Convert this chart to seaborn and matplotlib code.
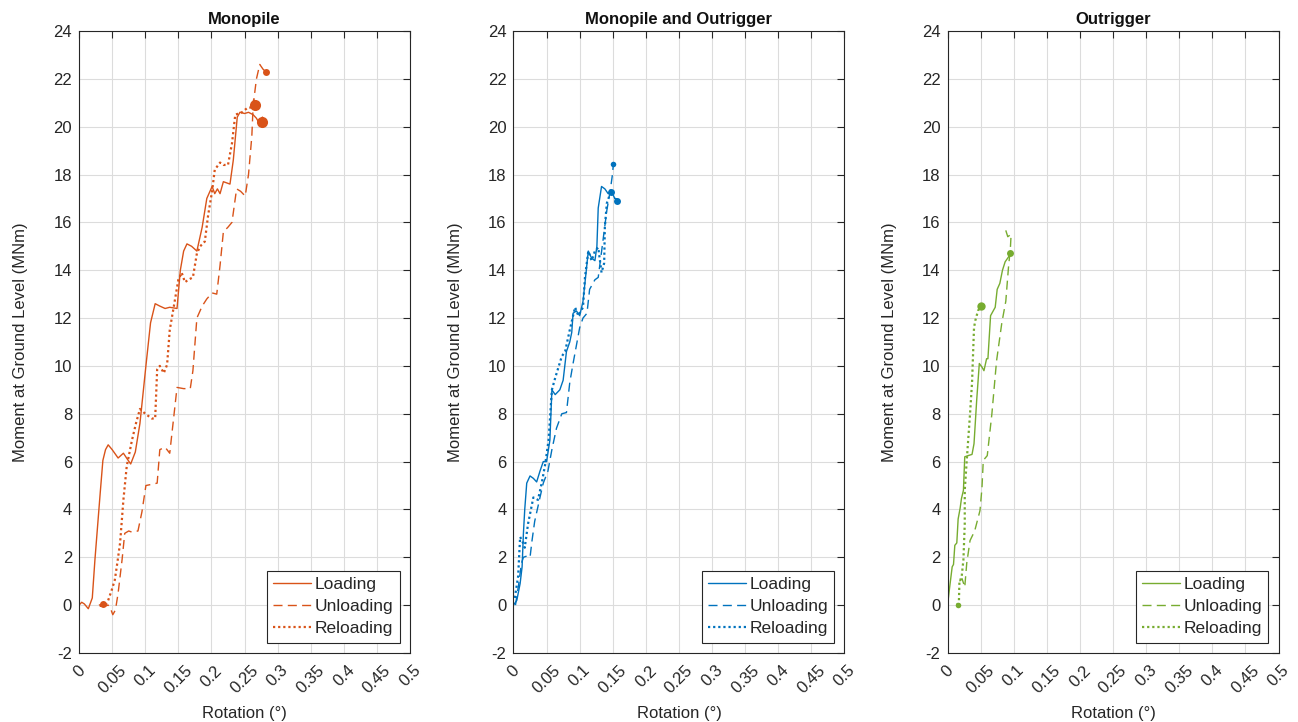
import matplotlib
matplotlib.use("Agg")
import matplotlib.pyplot as plt
import seaborn as sns
import pandas as pd

sns.set_theme(style="white")
plt.rcParams["font.family"] = ["Liberation Sans", "DejaVu Sans"]
plt.rcParams["axes.unicode_minus"] = False

# ---- Monopile ----
mono_load_rot = [0, 0.004, 0.008, 0.014, 0.020, 0.024, 0.032, 0.036, 0.040, 0.044, 0.050, 0.059, 0.067,
                 0.073, 0.078, 0.085, 0.092, 0.101, 0.108, 0.115, 0.122, 0.130, 0.137, 0.148, 0.153,
                 0.158, 0.163, 0.170, 0.178, 0.186, 0.193, 0.201, 0.205, 0.209, 0.213, 0.218, 0.223,
                 0.228, 0.233, 0.239, 0.243, 0.250, 0.256, 0.263,
                 0.268, 0.274, 0.280, 0.276, 0.271, 0.282, 0.277, 0.272, 0.279, 0.283, 0.274, 0.277]
mono_load_mom = [0, 0.12, 0.05, -0.15, 0.3, 1.9, 4.7, 6.05, 6.5, 6.7, 6.5, 6.15, 6.35,
                 6.1, 5.9, 6.4, 7.6, 10.0, 11.8, 12.6, 12.5, 12.4, 12.45, 12.4, 14.0,
                 14.8, 15.1, 15.0, 14.8, 15.8, 17.0, 17.5, 17.2, 17.4, 17.2, 17.7, 17.65,
                 17.6, 18.6, 20.4, 20.6, 20.55, 20.6, 20.5,
                 20.35, 20.05, 20.3, 20.0, 20.25, 20.15, 20.4, 20.1, 20.0, 20.25, 20.2, 20.2]

mono_unload_rot = [0.030, 0.036, 0.032, 0.042, 0.038, 0.044, 0.047, 0.051, 0.055, 0.059, 0.065, 0.069,
                   0.075, 0.080, 0.089, 0.095, 0.101, 0.110, 0.118, 0.122, 0.130, 0.137, 0.142, 0.148,
                   0.158, 0.168, 0.172, 0.178, 0.186, 0.193, 0.201, 0.208, 0.213, 0.218, 0.225, 0.231,
                   0.238, 0.244, 0.251, 0.256, 0.261, 0.263, 0.268, 0.273, 0.278, 0.282]
mono_unload_mom = [0, 0.05, -0.05, 0.05, -0.05, 0, -0.1, -0.4, -0.2, 0.5, 1.9, 3.0,
                   3.1, 3.05, 3.1, 3.9, 5.0, 5.05, 5.1, 6.5, 6.6, 6.35, 7.6, 9.1,
                   9.05, 9.05, 9.8, 12.0, 12.5, 12.8, 13.05, 13.0, 14.2, 15.6, 15.8, 16.0,
                   17.4, 17.3, 17.1, 18.0, 19.6, 20.9, 22.0, 22.6, 22.4, 22.3]

mono_reload_rot = [0.044, 0.049, 0.054, 0.058, 0.062, 0.067, 0.072, 0.080, 0.086, 0.092, 0.096, 0.100,
                   0.105, 0.110, 0.115, 0.118, 0.122, 0.128, 0.133, 0.137, 0.142, 0.150, 0.155, 0.160,
                   0.165, 0.172, 0.178, 0.183, 0.190, 0.195, 0.201, 0.205, 0.213, 0.218, 0.225, 0.231,
                   0.236, 0.246, 0.255,
                   0.261, 0.268, 0.263, 0.270, 0.264, 0.269, 0.262, 0.270, 0.266]
mono_reload_mom = [0.2, 0.6, 1.05, 1.8, 2.6, 4.4, 5.8, 6.9, 7.6, 8.2, 8.1, 8.0,
                   7.9, 7.8, 7.8, 9.85, 10.0, 9.7, 10.05, 11.5, 12.3, 13.6, 13.9, 13.5,
                   13.6, 13.7, 14.7, 15.0, 15.2, 16.3, 17.3, 18.2, 18.5, 18.4, 18.4, 19.3,
                   20.5, 20.6, 20.8,
                   20.8, 21.05, 20.7, 20.95, 21.1, 20.75, 20.95, 21.0, 20.9]

# ---- Monopile and Outrigger ----
mo_load_rot = [0, 0.005, 0.010, 0.013, 0.015, 0.017, 0.020, 0.025, 0.030, 0.035, 0.040, 0.045,
               0.050, 0.055, 0.058, 0.063, 0.070, 0.075, 0.080, 0.085, 0.088, 0.090, 0.095, 0.100,
               0.105, 0.110, 0.113, 0.118, 0.123, 0.126, 0.128, 0.133, 0.138, 0.143, 0.148, 0.153,
               0.157, 0.154, 0.158, 0.156]
mo_load_mom = [0, 0.2, 0.9, 1.6, 3.0, 4.0, 5.1, 5.4, 5.3, 5.15, 5.6, 6.0,
               6.0, 6.9, 9.0, 8.8, 9.0, 9.4, 10.6, 11.0, 11.4, 12.2, 12.3, 12.1,
               12.7, 14.0, 14.8, 14.5, 14.4, 15.0, 16.6, 17.5, 17.4, 17.2, 17.3, 17.0,
               16.9, 17.0, 16.95, 16.9]

mo_unload_rot = [0.003, 0.008, 0.012, 0.015, 0.020, 0.025, 0.028, 0.032, 0.040, 0.045, 0.052, 0.058,
                 0.065, 0.073, 0.080, 0.085, 0.090, 0.100, 0.105, 0.111, 0.115, 0.123, 0.128, 0.135,
                 0.141, 0.146, 0.149, 0.151]
mo_unload_mom = [0.0, 0.9, 1.75, 2.0, 2.05, 2.0, 2.7, 3.5, 4.5, 5.1, 5.6, 6.5,
                 7.4, 8.0, 8.05, 9.3, 10.1, 11.6, 12.0, 12.2, 13.2, 13.6, 13.7, 15.2,
                 16.5, 17.3, 17.9, 18.45]

mo_reload_rot = [0.002, 0.007, 0.010, 0.013, 0.017, 0.022, 0.030, 0.037, 0.043, 0.048, 0.053, 0.058,
                 0.063, 0.073, 0.078, 0.085, 0.093, 0.098, 0.105, 0.108, 0.113, 0.118, 0.123, 0.128,
                 0.133, 0.137, 0.138, 0.141, 0.146, 0.148]
mo_reload_mom = [0.3, 1.2, 2.85, 2.7, 2.4, 3.4, 4.5, 4.4, 5.15, 5.9, 6.9, 9.0,
                 9.5, 10.4, 10.6, 11.5, 12.45, 12.1, 12.45, 13.7, 14.8, 14.4, 14.8, 14.95,
                 13.9, 14.3, 15.8, 16.8, 17.2, 17.25]

# ---- Outrigger ----
out_load_rot = [0, 0.003, 0.007, 0.009, 0.011, 0.014, 0.016, 0.019, 0.021, 0.024, 0.026, 0.031,
                0.037, 0.040, 0.044, 0.048, 0.052, 0.055, 0.059, 0.061, 0.065, 0.072, 0.075, 0.079,
                0.083, 0.087, 0.092, 0.095]
out_load_mom = [0, 0.7, 1.6, 1.7, 2.5, 2.6, 3.6, 4.05, 4.45, 4.8, 6.2, 6.25,
                6.3, 6.75, 8.55, 10.1, 9.95, 9.8, 10.3, 10.3, 12.1, 12.45, 13.2, 13.45,
                14.0, 14.35, 14.55, 14.7]

out_unload_rot = [0.018, 0.022, 0.026, 0.029, 0.034, 0.041, 0.049, 0.052, 0.054, 0.060, 0.067, 0.074,
                  0.082, 0.088, 0.092, 0.095, 0.096, 0.091, 0.087]
out_unload_mom = [1.0, 1.1, 0.75, 1.75, 2.7, 3.1, 3.95, 4.9, 6.05, 6.25, 8.0, 10.2,
                  11.8, 12.7, 14.1, 14.95, 15.5, 15.4, 15.75]

out_reload_rot = [0.016, 0.015, 0.017, 0.018, 0.021, 0.024, 0.026, 0.026, 0.029, 0.034, 0.037, 0.040,
                  0.042, 0.046, 0.049, 0.050]
out_reload_mom = [0, 0.05, -0.05, 1.05, 1.1, 1.9, 3.4, 4.8, 6.05, 8.0, 9.3, 11.6,
                  11.9, 12.3, 12.45, 12.5]

panel_titles = ["Monopile", "Monopile and Outrigger", "Outrigger"]
case_names = ["Loading", "Unloading", "Reloading"]
panel_colors = ["#D95319", "#0072BD", "#77AC30"]
x_ticks = [0, 0.05, 0.1, 0.15, 0.2, 0.25, 0.3, 0.35, 0.4, 0.45, 0.5]
x_tick_labels = ["0", "0.05", "0.1", "0.15", "0.2", "0.25", "0.3", "0.35", "0.4", "0.45", "0.5"]
y_ticks = list(range(-2, 25, 2))

series = {
    "Monopile": [(mono_load_rot, mono_load_mom), (mono_unload_rot, mono_unload_mom),
                 (mono_reload_rot, mono_reload_mom)],
    "Monopile and Outrigger": [(mo_load_rot, mo_load_mom), (mo_unload_rot, mo_unload_mom),
                               (mo_reload_rot, mo_reload_mom)],
    "Outrigger": [(out_load_rot, out_load_mom), (out_unload_rot, out_unload_mom),
                  (out_reload_rot, out_reload_mom)],
}

# dense clusters of samples where the record dwells: (series index, sample index, marker size)
dwell_points = {
    "Monopile": [(0, -1, 8), (1, -1, 5), (1, 1, 5), (2, -1, 8)],
    "Monopile and Outrigger": [(0, -1, 5), (1, -1, 4), (2, -1, 5)],
    "Outrigger": [(0, -1, 5), (2, -1, 6), (2, 0, 4)],
}

line_styles = {
    "Loading": dict(linestyle="-", linewidth=1.0),
    "Unloading": dict(linestyle=(0, (6.5, 3.8)), linewidth=1.0),
    "Reloading": dict(linestyle=(0, (1.0, 1.3)), linewidth=1.6),
}

fig = plt.figure(figsize=(12.98, 7.22), dpi=100)
lefts = [0.0609, 0.3956, 0.7300]
ink = "#262626"

for left, title, color in zip(lefts, panel_titles, panel_colors):
    ax = fig.add_axes([left, 0.0956, 0.255, 0.8615])
    for name, (rot, mom) in zip(case_names, series[title]):
        df = pd.DataFrame({"rotation": rot, "moment": mom})
        sns.lineplot(data=df, x="rotation", y="moment", ax=ax, sort=False, estimator=None,
                     color=color, label=name, **line_styles[name])
    for s_idx, p_idx, size in dwell_points[title]:
        rot, mom = series[title][s_idx]
        ax.plot([rot[p_idx]], [mom[p_idx]], marker="o", markersize=size, color=color,
                markeredgewidth=0, linestyle="none")
    ax.set_xlim(0, 0.5)
    ax.set_ylim(-2, 24)
    ax.set_xticks(x_ticks)
    ax.set_xticklabels(x_tick_labels)
    ax.set_yticks(y_ticks)
    ax.grid(True, color="#dcdcdc", linewidth=0.8)
    ax.tick_params(axis="both", which="both", direction="in", length=5, width=0.8,
                   top=True, right=True, colors=ink, labelsize=12, labelcolor=ink)
    ax.tick_params(axis="y", pad=5)
    ax.tick_params(axis="x", labelrotation=45, pad=7)
    for sp in ax.spines.values():
        sp.set_color(ink)
        sp.set_linewidth(0.8)
    ax.set_title(title, fontsize=12, fontweight="bold", color="#111111", pad=5)
    ax.set_xlabel("Rotation (°)", fontsize=12, color=ink, labelpad=7)
    ax.set_ylabel("Moment at Ground Level (MNm)", fontsize=12, color=ink, labelpad=18)
    leg = ax.legend(loc="lower right", fontsize=12.5, frameon=True, fancybox=False,
                    framealpha=1, edgecolor=ink, handlelength=2.2, borderpad=0.35,
                    labelspacing=0.4, handletextpad=0.2, borderaxespad=0.6)
    leg.get_frame().set_linewidth(0.8)

fig.savefig("out.png", dpi=100)
